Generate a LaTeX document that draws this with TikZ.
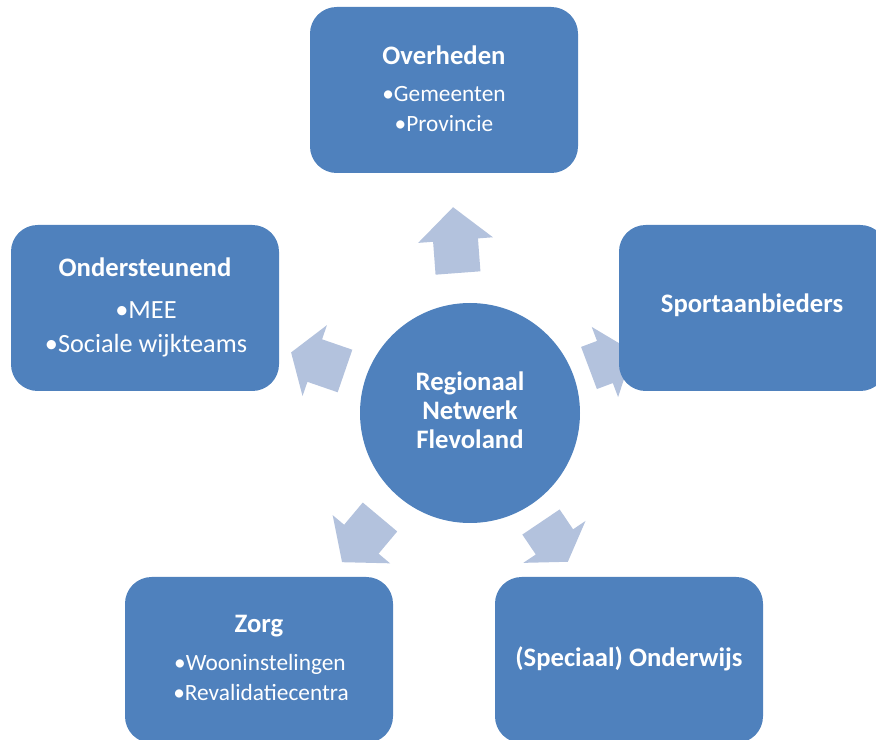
\documentclass[tikz,border=0pt]{standalone}
\usepackage{fontspec}
\setmainfont{Carlito}
\definecolor{boxblue}{RGB}{79,129,189}
\definecolor{arrowblue}{RGB}{179,194,221}
\begin{document}
\begin{tikzpicture}[x=0.75pt,y=0.75pt,
  panel/.style={fill=boxblue, draw=none, rounded corners=20pt, minimum width=201pt, minimum height=124.5pt, inner sep=0pt},
  hubdisc/.style={shape=circle, fill=boxblue, draw=none, minimum size=165pt, inner sep=0pt},
  spoke/.style={fill=arrowblue, draw=none},
  ttl/.style={anchor=base, text=white, font=\fontsize{20}{24}\selectfont\bfseries, inner sep=0pt},
  itm/.style={anchor=base, text=white, font=\fontsize{17.5}{21}\selectfont, inner sep=0pt},
  itmb/.style={anchor=base, text=white, font=\fontsize{19.7}{23}\selectfont, inner sep=0pt}]
\useasboundingbox (0,0) rectangle (876,740);
\clip (0,0) rectangle (876,740);
% arrows (behind everything)
\begin{scope}[shift={(458,467)}, rotate=94.3]
  \fill[spoke] (0,-22.5) -- (33,-22.5) -- (33,-37.5) -- (66,0) -- (33,37.5) -- (33,22.5) -- (0,22.5) -- cycle;
\end{scope}
\begin{scope}[shift={(345,369)}, rotate=161]
  \fill[spoke] (0,-22.5) -- (32,-22.5) -- (32,-37.5) -- (57,0) -- (32,37.5) -- (32,22.5) -- (0,22.5) -- cycle;
\end{scope}
\begin{scope}[shift={(380,223)}, rotate=-130]
  \fill[spoke] (0,-22.5) -- (29,-22.5) -- (29,-37.5) -- (59,0) -- (29,37.5) -- (29,22.5) -- (0,22.5) -- cycle;
\end{scope}
\begin{scope}[shift={(541,218)}, rotate=-56]
  \fill[spoke] (0,-22.5) -- (24,-22.5) -- (24,-37.5) -- (48,0) -- (24,37.5) -- (24,22.5) -- (0,22.5) -- cycle;
\end{scope}
\begin{scope}[shift={(589,372)}, rotate=20.6]
  \fill[spoke] (0,-22.5) -- (17,-22.5) -- (17,-37.5) -- (47,0) -- (17,37.5) -- (17,22.5) -- (0,22.5) -- cycle;
\end{scope}
% hub
\node[hubdisc] (hub) at (470,327) {};
\node[ttl] (h1) at (470,349) {Regionaal};
\node[ttl] (h2) at (470,320) {Netwerk};
\node[ttl] (h3) at (470,291) {Flevoland};
% Overheden
\node[panel] (ov) at (444,650) {};
\node[ttl] (ovt) at (444,675) {Overheden};
\node[itm] (ov1) at (444,638) {•Gemeenten};
\node[itm] (ov2) at (444,608) {•Provincie};
% Ondersteunend
\node[panel] (on) at (145,432) {};
\node[ttl] (ont) at (145,463) {Ondersteunend};
\node[itmb] (on1) at (146,421) {•MEE};
\node[itmb] (on2) at (146,387) {•Sociale wijkteams};
% Sportaanbieders
\node[panel] (sp) at (753,432) {};
\node[ttl] (spt) at (752,427) {Sportaanbieders};
% Zorg
\node[panel] (zo) at (259,80) {};
\node[ttl] (zot) at (259,107) {Zorg};
\node[itm] (zo1) at (260,69) {•Wooninstelingen};
\node[itm] (zo2) at (261,39) {•Revalidatiecentra};
% Onderwijs
\node[panel] (ow) at (629,80) {};
\node[ttl] (owt) at (629,73) {(Speciaal) Onderwijs};
\end{tikzpicture}
\end{document}
